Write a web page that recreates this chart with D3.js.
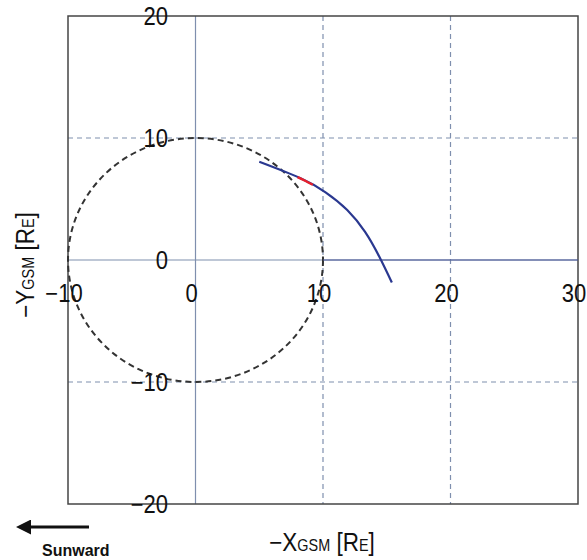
<!DOCTYPE html>
<html>
<head>
<meta charset="utf-8">
<script src="https://cdn.jsdelivr.net/npm/d3@7"></script>
<style>
  body { margin: 0; background: #fff; }
  svg text { font-family: "Liberation Sans", Arial, sans-serif; fill: #111; }
</style>
</head>
<body>
<div id="chart"></div>
<script>
// data (Earth radii)
var xTicks = [-10, 0, 10, 20, 30];
var yTicks = [-20, -10, 0, 10, 20];
var solidGrid = [0];
var dashedX = [10, 20];
var dashedY = [-10, 10];
var circleR = 10;

// trace, blue part
var traceX = [5.0, 8.2, 10.2, 11.9, 13.3, 14.4, 15.4];
var traceY = [8.05, 6.72, 5.55, 4.1, 2.3, 0.3, -1.85];
// red part of the trace
var redX = [8.0, 8.6, 9.2];
var redY = [6.8, 6.5, 6.16];
// flat line along y = 0
var flatX = [10, 30];
var flatY = [0, 0];

var svgWidth = 587, svgHeight = 560;

var svg = d3.select('#chart').append('svg')
    .attr('width', svgWidth)
    .attr('height', svgHeight);

var x = d3.scaleLinear().domain([-10, 30]).range([68, 578]);
var y = d3.scaleLinear().domain([-20, 20]).range([504, 16]);

var gridColor = '#7f8fae';

// dashed grid
svg.selectAll('.vdash').data(dashedX).enter().append('line')
    .attr('x1', d => x(d)).attr('x2', d => x(d))
    .attr('y1', y(20)).attr('y2', y(-20))
    .attr('stroke', gridColor).attr('stroke-width', 1.2)
    .attr('stroke-dasharray', '5,4');
svg.selectAll('.hdash').data(dashedY).enter().append('line')
    .attr('x1', x(-10)).attr('x2', x(30))
    .attr('y1', d => y(d)).attr('y2', d => y(d))
    .attr('stroke', gridColor).attr('stroke-width', 1.2)
    .attr('stroke-dasharray', '5,4');

// solid lines through origin
svg.selectAll('.vsolid').data(solidGrid).enter().append('line')
    .attr('x1', d => x(d)).attr('x2', d => x(d))
    .attr('y1', y(20)).attr('y2', y(-20))
    .attr('stroke', gridColor).attr('stroke-width', 1.2);
svg.selectAll('.hsolid').data(solidGrid).enter().append('line')
    .attr('x1', x(-10)).attr('x2', x(30))
    .attr('y1', d => y(d)).attr('y2', d => y(d))
    .attr('stroke', gridColor).attr('stroke-width', 1.2);

// frame
svg.append('rect')
    .attr('x', x(-10)).attr('y', y(20))
    .attr('width', x(30) - x(-10)).attr('height', y(-20) - y(20))
    .attr('fill', 'none').attr('stroke', '#454545').attr('stroke-width', 1.5);

// dashed circle r = 10
svg.append('ellipse')
    .attr('cx', x(0)).attr('cy', y(0))
    .attr('rx', x(circleR) - x(0)).attr('ry', y(0) - y(circleR))
    .attr('fill', 'none').attr('stroke', '#333')
    .attr('stroke-width', 2).attr('stroke-dasharray', '6,4');

// flat line
var flat = flatX.map((d, i) => [d, flatY[i]]);
svg.append('path')
    .attr('d', d3.line().x(d => x(d[0])).y(d => y(d[1]))(flat))
    .attr('fill', 'none').attr('stroke', '#4a5898').attr('stroke-width', 1.2);

// trace
var line = d3.line().x(d => x(d[0])).y(d => y(d[1])).curve(d3.curveNatural);
var trace = traceX.map((d, i) => [d, traceY[i]]);
svg.append('path')
    .attr('d', line(trace))
    .attr('fill', 'none').attr('stroke', '#2a3890').attr('stroke-width', 2.2);
var red = redX.map((d, i) => [d, redY[i]]);
svg.append('path')
    .attr('d', line(red))
    .attr('fill', 'none').attr('stroke', '#e8202c').attr('stroke-width', 2.4);

// tick labels (narrowed to match the condensed face)
function fmt(d) { return d < 0 ? '\u2212' + Math.abs(d) : d; }
svg.selectAll('.ylab').data(yTicks).enter().append('text')
    .attr('transform', d => 'translate(168,' + y(d) + ') scale(0.88,1)')
    .attr('dy', '0.36em')
    .attr('text-anchor', 'end').attr('font-size', 25)
    .text(fmt);
svg.selectAll('.xlab').data(xTicks).enter().append('text')
    .attr('transform', d => 'translate(' + (x(d) - 4) + ',' + (y(0) + 33) + ') scale(0.88,1)')
    .attr('dy', '0.36em')
    .attr('text-anchor', 'middle').attr('font-size', 25)
    .text(fmt);

// axis titles
var xt = svg.append('text')
    .attr('transform', 'translate(322,551) scale(0.9,1)')
    .attr('text-anchor', 'middle').attr('font-size', 25);
xt.append('tspan').text('\u2212X');
xt.append('tspan').attr('font-size', 16).text('GSM');
xt.append('tspan').text(' [R');
xt.append('tspan').attr('font-size', 16).text('E');
xt.append('tspan').text(']');

var yt = svg.append('text')
    .attr('transform', 'translate(34,265) rotate(-90) scale(0.9,1)')
    .attr('text-anchor', 'middle').attr('font-size', 25);
yt.append('tspan').text('\u2212Y');
yt.append('tspan').attr('font-size', 16).text('GSM');
yt.append('tspan').text(' [R');
yt.append('tspan').attr('font-size', 16).text('E');
yt.append('tspan').text(']');

// sunward arrow
svg.append('defs').append('marker')
    .attr('id', 'arr').attr('viewBox', '0 0 10 10')
    .attr('refX', 2).attr('refY', 5)
    .attr('markerWidth', 5).attr('markerHeight', 5)
    .attr('orient', 'auto-start-reverse')
    .append('path').attr('d', 'M0,0 L10,5 L0,10 z').attr('fill', '#111');
svg.append('line')
    .attr('x1', 89).attr('x2', 28).attr('y1', 527).attr('y2', 527)
    .attr('stroke', '#111').attr('stroke-width', 3)
    .attr('marker-end', 'url(#arr)');
svg.append('text')
    .attr('x', 42).attr('y', 556)
    .attr('font-size', 16).attr('font-weight', 'bold')
    .text('Sunward');
</script>
</body>
</html>
